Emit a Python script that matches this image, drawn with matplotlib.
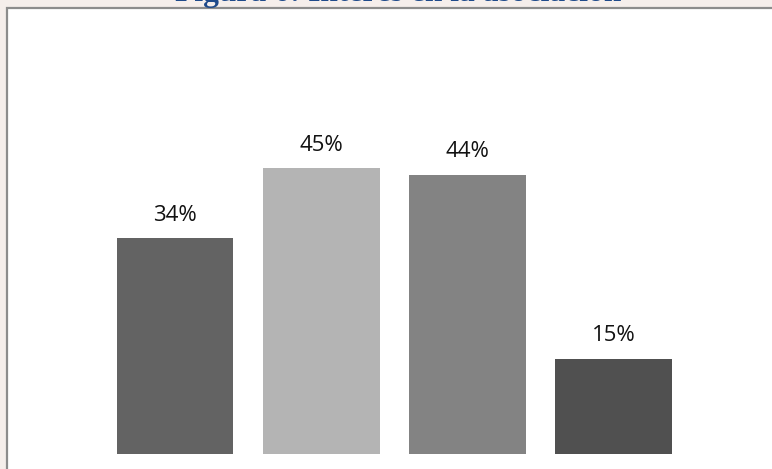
import numpy as np
import matplotlib
matplotlib.use('Agg')
import matplotlib.pyplot as plt
from matplotlib.patches import Rectangle

# data
categories = ['A', 'B', 'C', 'D']
values = [34, 45, 44, 15]
bar_colors = ['#636363', '#b4b4b4', '#838383', '#505050']
title = 'Figura 6: Interés en la asociación'

W, H = 772, 469
fig = plt.figure(figsize=(W / 100, H / 100), dpi=100)
fig.patch.set_facecolor('#f5eeeb')

# white chart box with grey frame (runs off right and bottom edges)
box = Rectangle((7 / W, -0.05), 1.1, (H - 8) / H + 0.05,
                transform=fig.transFigure, facecolor='white',
                edgecolor='#8c8c8c', linewidth=1.6, zorder=0)
fig.patches.append(box)

# title, mostly cut off at the top of the picture
fig.text(398 / W, (H - 1.0) / H, title, ha='center', va='baseline',
         fontsize=22.7, fontweight='bold', family='Liberation Serif',
         color='#1f4a8a')

ax = fig.add_axes([8 / W, 0, 764 / W, 460 / H])
ax.set_zorder(2)
ax.set_facecolor('none')
x = np.arange(len(values))
step = 146.2
scale = 6.35
ax.set_xlim((8 - 175) / step, (772 - 175) / step)
ax.set_ylim(-(H - 454) / scale, (454 - 9) / scale)

bars = ax.bar(x, values, width=0.8, color=bar_colors)
for b, v in zip(bars, values):
    ax.annotate(f'{v}%', (b.get_x() + b.get_width() / 2, v),
                xytext=(0, 12.5), textcoords='offset points',
                ha='center', va='baseline', fontsize=16,
                family='Open Sans', color='#111111')

ax.axis('off')
fig.savefig('out.png', dpi=100, facecolor=fig.get_facecolor())
